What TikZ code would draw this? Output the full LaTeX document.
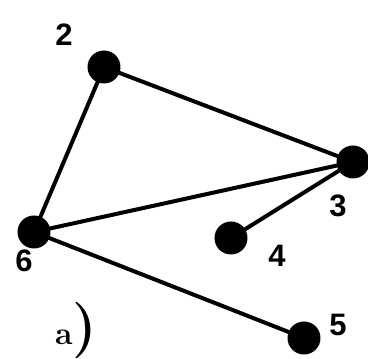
\documentclass[tikz,border=0pt]{standalone}
\usepackage{fontspec}
\newfontfamily\lblfont{Liberation Sans}
\begin{document}
\begin{tikzpicture}[x=1pt,y=1pt,
  vert/.style={circle,fill=black,inner sep=0pt,minimum size=33pt},
  edge/.style={line width=4pt,line cap=round},
  lbl/.style={font=\lblfont\bfseries\fontsize{31}{31}\selectfont,inner sep=0pt}]
\useasboundingbox (0,0) rectangle (368,359);
\coordinate (p2) at (104,292);
\coordinate (p3) at (353,197);
\coordinate (p6) at (34,127);
\coordinate (p4) at (231,121);
\coordinate (p5) at (304,21);
\draw[edge] (p2) -- (p6);
\draw[edge] (p2) -- (p3);
\draw[edge] (p6) -- (p3);
\draw[edge] (p3) -- (p4);
\draw[edge] (p6) -- (p5);
\node[vert] (n2) at (p2) {};
\node[vert] (n3) at (p3) {};
\node[vert] (n6) at (p6) {};
\node[vert] (n4) at (p4) {};
\node[vert] (n5) at (p5) {};
\node[lbl] (l2) at (64,324) {2};
\node[lbl] (l3) at (338,153) {3};
\node[lbl] (l6) at (24,98) {6};
\node[lbl] (l4) at (277,103) {4};
\node[lbl] (l5) at (338,34) {5};
\node[inner sep=0pt,anchor=base west] (cap) at (55,14) {\bfseries\fontsize{32}{32}\selectfont a\fontsize{56}{56}\selectfont)};
\end{tikzpicture}
\end{document}
